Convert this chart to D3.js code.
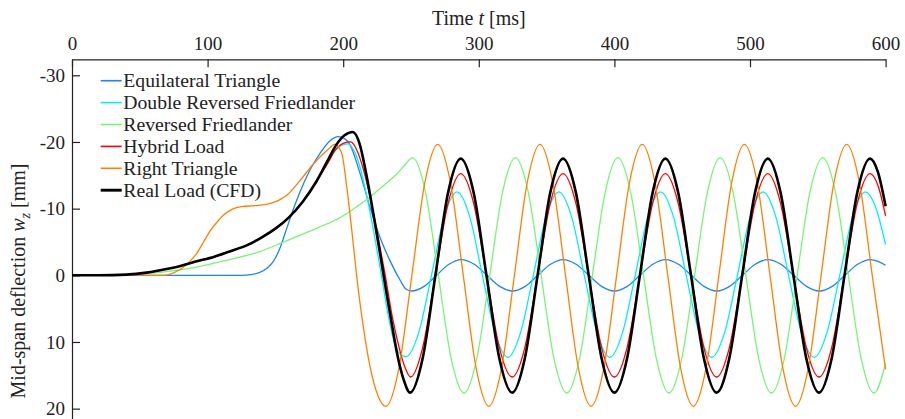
<!DOCTYPE html>
<html>
<head>
<meta charset="utf-8">
<script src="https://cdn.jsdelivr.net/npm/d3@7"></script>
<style>
  body { margin: 0; background: #fff; }
  svg { display: block; font-family: "Liberation Serif", "Times New Roman", serif; }
  .tick text { font-size: 19px; fill: #222; font-family: "Liberation Serif", "Times New Roman", serif; }
  .domain, .tick line { stroke: #222; stroke-width: 1.2; }
</style>
</head>
<body>
<div class="chart"></div>
<script>
// values: [time ms, deflection mm]
const equilateral = [
  [0,0],[125,0],[132,-0.1],[138,-0.4],[144,-1.1],[148.5,-2.1],[153.4,-4.1],[158.3,-7.0],[163.2,-9.9],
  [168.1,-12.5],[175.5,-15.8],[182.9,-18.3],[190.3,-20.2],[196.4,-20.8],[201,-20.5],[205,-19.6],
  [212.4,-15.3],[219.8,-10.2],[227.1,-5.7],[234.5,-2.2],[241.9,0.7],[246,2.0],[250.5,2.35],
  [259.7,1.66],[268.85,0],[278,-1.66],[287.2,-2.35],[296.6,-1.66],[306,0],[315.4,1.66],[324.8,2.35],
  [334.2,1.66],[343.55,0],[352.9,-1.66],[362.3,-2.35],[371.7,-1.66],[381.15,0],[390.6,1.66],[400,2.35],
  [409.45,1.66],[418.9,0],[428.35,-1.66],[437.8,-2.35],[447.2,-1.66],[456.65,0],[466.1,1.66],[475.5,2.35],
  [484.95,1.66],[494.4,0],[503.85,-1.66],[513.3,-2.35],[522.75,-1.66],[532.25,0],[541.7,1.66],[551.2,2.35],
  [560.6,1.66],[570,0],[579.4,-1.66],[588.8,-2.35],[594.5,-2.1],[600,-1.5]
]

const doubleReversed = [
  [0,0],[20,0],[40,-0.1],[55,-0.4],[65,-0.75],[80,-1.4],[90,-2.0],[105,-2.8],[115,-3.5],[130,-4.6],
  [140,-5.7],[150,-7.0],[160,-8.7],[170,-11.0],[180,-14.0],[188,-16.8],[195,-18.9],[200,-19.6],[203.5,-19.7],
  [208,-18.7],[213,-15.8],[218,-11.3],[223,-6.0],[228.2,0],[233,5.8],[237,9.6],[241,11.6],[246.3,12.2],
  [255.7,8.6],[265.1,0],[274.5,-8.8],[283.9,-12.5],[293.3,-8.8],[302.65,0],[312,8.6],[321.4,12.3],
  [330.8,8.6],[340.2,0],[349.6,-8.8],[359,-12.5],[368.4,-8.8],[377.8,0],[387.2,8.6],[396.6,12.3],
  [406,8.6],[415.35,0],[424.7,-8.8],[434.1,-12.5],[443.5,-8.8],[452.95,0],[462.4,8.6],[471.8,12.3],
  [481.25,8.6],[490.7,0],[500.15,-8.8],[509.6,-12.5],[519,-8.8],[528.45,0],[537.9,8.6],[547.3,12.3],
  [556.75,8.6],[566.2,0],[575.65,-8.8],[585.1,-12.5],[592.5,-10.3],[600,-4.6]
]

const reversedFried = [
  [0,0],[30,0],[45,-0.1],[65,-0.45],[90,-1.15],[114,-2.25],[139,-3.6],[155,-4.9],[168,-6.0],[182,-7.2],
  [196.4,-8.5],[210,-10.3],[220,-11.8],[230,-13.5],[240,-15.3],[246,-16.7],[251.2,-17.65],
  [260.7,-12.45],[270.15,0],[279.6,12.45],[289.1,17.65],[298.55,12.45],[308.05,0],[317.5,-12.45],[327,-17.65],
  [336.5,-12.45],[345.95,0],[355.4,12.45],[364.9,17.65],[374.3,12.45],[383.75,0],[393.2,-12.45],[402.6,-17.65],
  [412,-12.45],[421.45,0],[430.9,12.45],[440.3,17.65],[449.7,12.45],[459.15,0],[468.6,-12.45],[478,-17.65],
  [487.5,-12.45],[496.95,0],[506.4,12.45],[515.9,17.65],[525.3,12.45],[534.75,0],[544.2,-12.45],[553.6,-17.65],
  [563.05,-12.45],[572.5,0],[581.95,12.45],[591.4,17.65],[600,13.2]
]

const hybrid = [
  [0,0],[20,0],[40,-0.1],[55,-0.4],[65,-0.75],[80,-1.4],[90,-2.0],[105,-2.8],[115,-3.5],[130,-4.6],
  [140,-5.7],[150,-7.0],[160,-8.7],[170,-11.0],[180,-14.0],[188,-16.6],[195,-19.0],[200,-19.8],[205.5,-20.0],
  [210,-18.8],[215,-15.8],[220,-11.6],[225,-6.6],[231,0],[236,6.0],[240,9.8],[245,13.5],[249.7,15.25],
  [258.65,10.8],[268,0],[277.35,-10.8],[286.7,-15.25],[296.2,-10.8],[305.65,0],[315.1,10.8],[324.6,15.25],
  [334,10.8],[343.35,0],[352.7,-10.8],[362.1,-15.25],[371.6,-10.8],[381.05,0],[390.5,10.8],[400,15.25],
  [409.4,10.8],[418.8,0],[428.2,-10.8],[437.6,-15.25],[447.05,-10.8],[456.5,0],[465.95,10.8],[475.4,15.25],
  [484.8,10.8],[494.25,0],[503.7,-10.8],[513.1,-15.25],[522.55,-10.8],[532,0],[541.45,10.8],[550.9,15.25],
  [560.3,10.8],[569.7,0],[579.1,-10.8],[588.5,-15.25],[594.3,-13.5],[600,-8.9]
]

const rightTriangle = [
  [0,0],[68,0],[74,-0.3],[80,-0.9],[86,-1.9],[92,-3.3],[97,-5.0],[102,-6.7],[107,-8.0],[112,-9.1],
  [118,-9.9],[125,-10.3],[135,-10.45],[145,-10.7],[152,-11.2],[158.3,-12.0],[168.1,-14.2],[178,-16.7],
  [187.8,-18.7],[194,-19.65],[198.9,-18.3],[202.6,-13.3],[206.3,-6.8],[210,0.2],[214.8,7.7],[219.8,13.7],
  [225.9,18.2],[231.6,19.65],[241.1,13.9],[250.65,0],[260.2,-13.9],[269.7,-19.65],[279.1,-13.9],[288.55,0],
  [298,13.9],[307.4,19.65],[316.8,13.9],[326.25,0],[335.7,-13.9],[345.1,-19.65],[354.5,-13.9],[363.95,0],
  [373.4,13.9],[382.8,19.65],[392.2,13.9],[401.65,0],[411.1,-13.9],[420.5,-19.65],[429.9,-13.9],[439.35,0],
  [448.8,13.9],[458.2,19.65],[467.6,13.9],[477.05,0],[486.5,-13.9],[495.9,-19.65],[505.3,-13.9],[514.75,0],
  [524.2,13.9],[533.6,19.65],[543,13.9],[552.45,0],[561.9,-13.9],[571.3,-19.65],[580.7,-13.9],[590.15,0],
  [600,14.1]
]

const realCFD = [
  [0,0],[20,0],[40,-0.1],[55,-0.4],[65,-0.75],[80,-1.4],[90,-2.0],[105,-2.8],[115,-3.5],[130,-4.6],
  [140,-5.7],[150,-7.0],[160,-8.7],[170,-11.0],[180,-14.0],[188,-17.0],[195,-19.6],[201,-21.0],[207,-21.5],
  [212,-19.8],[217,-15.2],[222,-9.5],[227,-3.5],[232,2.75],[236,7.5],[240,12.0],[244.5,15.6],[249.3,17.6],
  [258.65,12.4],[268,0],[277.35,-12.4],[286.7,-17.5],[296.2,-12.4],[305.65,0],[315.1,12.4],[324.6,17.6],
  [334,12.4],[343.35,0],[352.7,-12.4],[362.1,-17.5],[371.6,-12.4],[381.05,0],[390.5,12.4],[400,17.6],
  [409.4,12.4],[418.8,0],[428.2,-12.4],[437.6,-17.5],[447.05,-12.4],[456.5,0],[465.95,12.4],[475.4,17.6],
  [484.8,12.4],[494.25,0],[503.7,-12.4],[513.1,-17.5],[522.55,-12.4],[532,0],[541.45,12.4],[550.9,17.6],
  [560.3,12.4],[569.7,0],[579.1,-12.4],[588.5,-17.5],[594.3,-15.5],[600,-10.35]
]

const seriesNames = [
  "Equilateral Triangle", "Double Reversed Friedlander", "Reversed Friedlander",
  "Hybrid Load", "Right Triangle", "Real Load (CFD)"
]
const seriesData = [equilateral, doubleReversed, reversedFried, hybrid, rightTriangle, realCFD]
const seriesColors = ["#1a84ff", "#00eeff", "#77f577", "#ff0000", "#ff8000", "#000000"]
const seriesWidths = [1.3, 1.3, 1.3, 1.3, 1.3, 2.6]

const xTicks = [0, 100, 200, 300, 400, 500, 600]
const yTicks = [-30, -20, -10, 0, 10, 20]

const width = 905
const height = 419
const margin = { top: 59.3, left: 72, right: 19.4 }

const svg = d3.select(".chart")
  .append("svg")
  .attr("width", width)
  .attr("height", height)

// scales (y is reversed: negative deflection is up)
const xScale = d3.scaleLinear()
  .domain([0, 600])
  .range([margin.left, width - margin.right])

const yScale = d3.scaleLinear()
  .domain([-32.4, 22.5])
  .range([margin.top, margin.top + 54.9 * 6.667])

// axes, plain hyphen for negatives like the original
const xAxis = d3.axisTop(xScale)
  .tickValues(xTicks)
  .tickFormat(d => String(d))
  .tickSizeInner(-8)
  .tickSizeOuter(0)
  .tickPadding(9.5)

const yAxis = d3.axisLeft(yScale)
  .tickValues(yTicks)
  .tickFormat(d => String(d))
  .tickSizeInner(-8)
  .tickSizeOuter(0)
  .tickPadding(7)

svg.append("g")
  .attr("transform", `translate(0,${margin.top})`)
  .call(xAxis)
  .attr("font-family", null)
  .call(g => g.selectAll(".tick text").attr("dy", "0em"))

svg.append("g")
  .attr("transform", `translate(${margin.left},0)`)
  .call(yAxis)
  .attr("font-family", null)

// curves
const line = d3.line()
  .x(d => xScale(d[0]))
  .y(d => yScale(d[1]))
  .curve(d3.curveMonotoneX)

svg.append("g")
  .selectAll("path")
  .data(seriesData)
  .join("path")
  .attr("fill", "none")
  .attr("stroke", (d, i) => seriesColors[i])
  .attr("stroke-width", (d, i) => seriesWidths[i])
  .attr("stroke-linejoin", "round")
  .attr("d", line)

// legend
const legend = svg.append("g")
  .attr("transform", "translate(100.7,80.7)")

const rows = legend.selectAll("g")
  .data(seriesNames)
  .join("g")
  .attr("transform", (d, i) => `translate(0,${i * 21.9})`)

rows.append("line")
  .attr("x1", 0)
  .attr("x2", 21)
  .attr("stroke", (d, i) => seriesColors[i])
  .attr("stroke-width", (d, i) => seriesWidths[i] + 0.3)

rows.append("text")
  .attr("x", 22.6)
  .attr("dy", "0.34em")
  .attr("font-size", "19.7px")
  .attr("fill", "#222")
  .text(d => d)

// axis titles
const xTitle = svg.append("text")
  .attr("x", xScale(300))
  .attr("y", 25)
  .attr("text-anchor", "middle")
  .attr("font-size", "20px")
  .attr("fill", "#222")
xTitle.append("tspan").text("Time ")
xTitle.append("tspan").attr("font-style", "italic").text("t")
xTitle.append("tspan").text(" [ms]")

const yTitle = svg.append("text")
  .attr("transform", "translate(25,281) rotate(-90)")
  .attr("text-anchor", "middle")
  .attr("font-size", "20px")
  .attr("fill", "#222")
yTitle.append("tspan").text("Mid-span deflection ")
yTitle.append("tspan").attr("font-style", "italic").text("w")
yTitle.append("tspan").attr("font-style", "italic").attr("font-size", "14px").attr("dy", "5").text("z")
yTitle.append("tspan").attr("dy", "-5").text(" [mm]")
</script>
</body>
</html>
